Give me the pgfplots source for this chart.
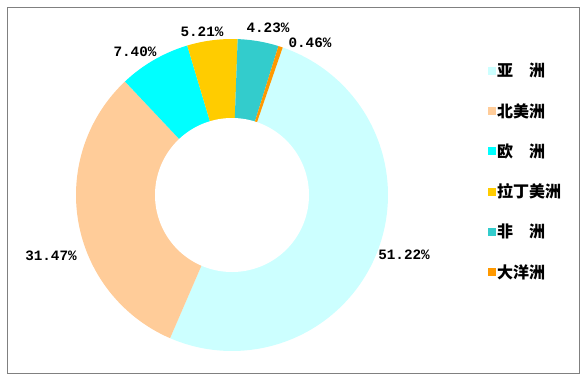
\documentclass[border=0pt]{standalone}
\usepackage{pgfplots}
\pgfplotsset{compat=1.18}
\usepackage{fontspec}
\setmainfont{Liberation Sans}
\newfontfamily\cjk{Noto Sans CJK SC}
\newfontfamily\lblfont{Liberation Mono}
\definecolor{cAsia}{HTML}{CCFFFF}
\definecolor{cNA}{HTML}{FFCC99}
\definecolor{cEU}{HTML}{00FFFF}
\definecolor{cLA}{HTML}{FFCC00}
\definecolor{cAF}{HTML}{33CCCC}
\definecolor{cOC}{HTML}{FF9900}
\def\Rout{156}
\def\Rin{77}
\def\cur{71}
\newcommand\slice[3]{%
  \pgfmathsetmacro\aend{(\cur)-3.6*#1}%
  \edef\tmp{\noexpand\addplot[fill=#2, draw=none, domain=0:100, samples=101]
    ({(\noexpand\x<0.5 ? 0 : \Rout)*cos((\cur)+((\aend)-(\cur))*(max(\noexpand\x,1)-1)/99)},
     {(\noexpand\x<0.5 ? 0 : \Rout)*sin((\cur)+((\aend)-(\cur))*(max(\noexpand\x,1)-1)/99)});}%
  \tmp
  \addlegendentry{#3}%
  \global\let\cur\aend
}
\newcommand\lbl{\lblfont\bfseries\fontsize{14.3bp}{16bp}\selectfont}
\begin{document}
\begin{tikzpicture}
\begin{axis}[
  x=1bp, y=1bp,
  xmin=-232, xmax=353, ymin=-185, ymax=195,
  hide axis, clip=false,
  legend image code/.code={\fill[#1] (0bp,-4bp) rectangle (8bp,4bp);},
  legend cell align=left,
  legend style={draw=none, fill=none, at={(axis cs:253,135)}, anchor=north west,
    row sep=23bp, font=\cjk\bfseries\fontsize{16bp}{19bp}\selectfont,
    nodes={inner sep=1bp}},
]
\path (axis cs:-232,-185) rectangle (axis cs:353,195);
\draw[gray, line width=1bp] (axis cs:-224.5,187.5) rectangle (axis cs:347.5,-178);
\slice{51.22}{cAsia}{亚　洲}
\slice{31.47}{cNA}{北美洲}
\slice{7.40}{cEU}{欧　洲}
\slice{5.21}{cLA}{拉丁美洲}
\slice{4.23}{cAF}{非　洲}
\slice{0.46}{cOC}{大洋洲}
\addplot[fill=white, draw=none, domain=0:360, samples=181, forget plot]
  ({\Rin*cos(x)}, {\Rin*sin(x)});
\node[font=\lbl] at (axis cs:-30,163) {5.21\%};
\node[font=\lbl] at (axis cs:36,167) {4.23\%};
\node[font=\lbl] at (axis cs:78,152) {0.46\%};
\node[font=\lbl] at (axis cs:-97,143) {7.40\%};
\node[font=\lbl] at (axis cs:-181,-61) {31.47\%};
\node[font=\lbl] at (axis cs:172,-60) {51.22\%};
\end{axis}
\end{tikzpicture}
\end{document}
